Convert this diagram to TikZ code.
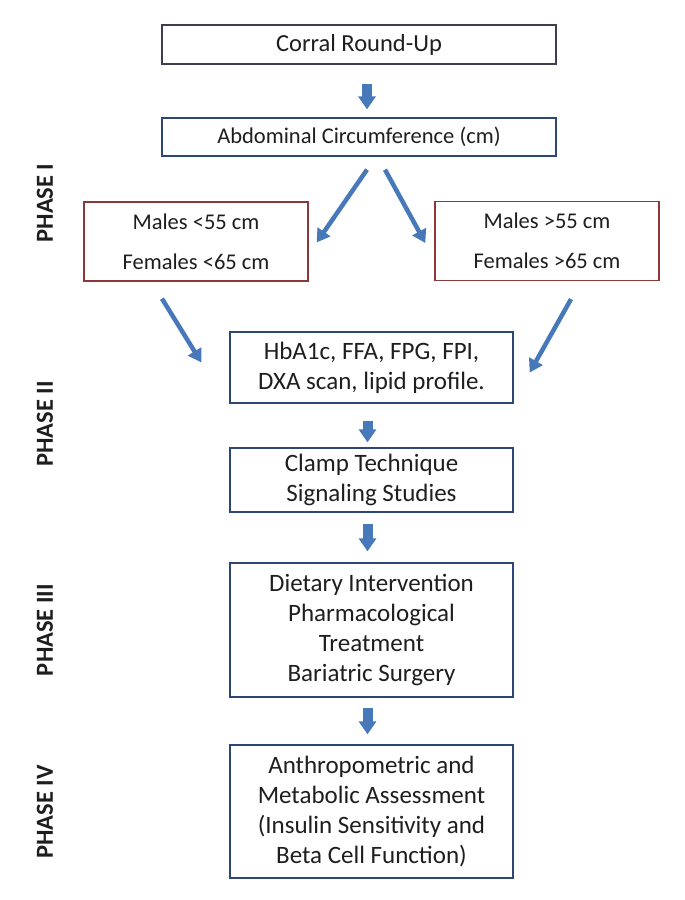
\documentclass[tikz,border=0pt]{standalone}
\usepackage{fontspec}
\setmainfont{Carlito}
\usetikzlibrary{calc,arrows.meta}

\definecolor{arrowblue}{RGB}{70,120,186}
\definecolor{greyframe}{RGB}{62,62,82}
\definecolor{navyframe}{RGB}{44,70,118}
\definecolor{redframe}{RGB}{140,56,56}
\definecolor{inktext}{RGB}{30,30,30}

\begin{document}
\begin{tikzpicture}[
                x=1pt,y=-1pt,
                line width=1.3pt, % frames
                box/.style={draw=navyframe,align=center,text=inktext,inner sep=0pt,
                            font=\fontsize{25}{30}\selectfont},
                splitbox/.style={box,draw=redframe,minimum width=224,minimum height=79,
                            font=\fontsize{22.5}{40}\selectfont},
                phase/.style={rotate=90,text=inktext,font=\fontsize{24.5}{29}\selectfont\bfseries},
                blockarrow/.style={arrowblue,line width=10pt,-{Triangle[width=17pt,length=13pt]}},
                slantarrow/.style={arrowblue,line width=4.5pt,-{Triangle[width=15pt,length=13pt]}}]

\useasboundingbox (0,0) rectangle (685,900);

% phases
                    \node[phase] (PH1) at (45,203) {PHASE I};
                    \node[phase] (PH2) at (45,424) {PHASE II};
                    \node[phase] (PH3) at (45,630) {PHASE III};
                    \node[phase] (PH4) at (45,812) {PHASE IV};


                    % 1
                    \node[box,draw=greyframe,minimum width=394,minimum height=39,font=\fontsize{24.5}{29}\selectfont] (CORRAL) at (359,44.5) {Corral Round-Up};

                    % 2
                    \node[box,minimum width=394,minimum height=38,font=\fontsize{22.5}{27}\selectfont] (ABDC) at (359,137) {Abdominal Circumference (cm)};

                    % 2a, 2b
                    \node[splitbox] (LOWAC) at (196,241.5) {Males <55 cm\\Females <65 cm};
                    \node[splitbox] (HIGHAC) at (547,241) {Males >55 cm\\Females >65 cm};

                    % 3
                    \node[box,minimum width=283,minimum height=71] (LABS) at (371.5,367.5) {HbA1c, FFA, FPG, FPI,\\DXA scan, lipid profile.};

                    % 4
                    \node[box,minimum width=283,minimum height=64] (CLAMP) at (371.5,480) {Clamp Technique\\Signaling Studies};

                    % 5
                    \node[box,minimum width=283,minimum height=134] (INTERV) at (371.5,630) {Dietary Intervention\\Pharmacological\\Treatment\\Bariatric Surgery};

                    % 6
                    \node[box,minimum width=283,minimum height=133] (ASSESS) at (371.5,811.5) {Anthropometric and\\Metabolic Assessment\\(Insulin Sensitivity and\\Beta Cell Function)};


% arrows
                    \path [blockarrow] ($(CORRAL.south)+(8,19)$) edge ($(ABDC.north)+(8,-8)$);
                    \path [slantarrow] ($(ABDC.south)+(8,13)$) edge ($(LOWAC.east)+(8,1)$);
                    \path [slantarrow] ($(ABDC.south)+(26,13)$) edge ($(HIGHAC.west)+(-9,2)$);
                    \path [slantarrow] ($(LOWAC.south)+(-34,17)$) edge ($(LABS.west)+(-28,-5)$);
                    \path [slantarrow] ($(HIGHAC.south)+(24,18)$) edge ($(LABS.east)+(16,5)$);
                    \path [blockarrow] ($(LABS.south)+(-4,17)$) edge ($(CLAMP.north)+(-4,-5)$);
                    \path [blockarrow] ($(CLAMP.south)+(-4,11)$) edge ($(INTERV.north)+(-4,-11)$);
                    \path [blockarrow] ($(INTERV.south)+(-4,10)$) edge ($(ASSESS.north)+(-4,-10)$);


%%%%%%%%%%%%%%%%%%%%%%%%%%%%%%%%%%%%%%%%%%%%%%%%%%%%%%%%%%%%%%%%%%%%%%%%%%%%%%%%%%%%


\end{tikzpicture}
\end{document}
